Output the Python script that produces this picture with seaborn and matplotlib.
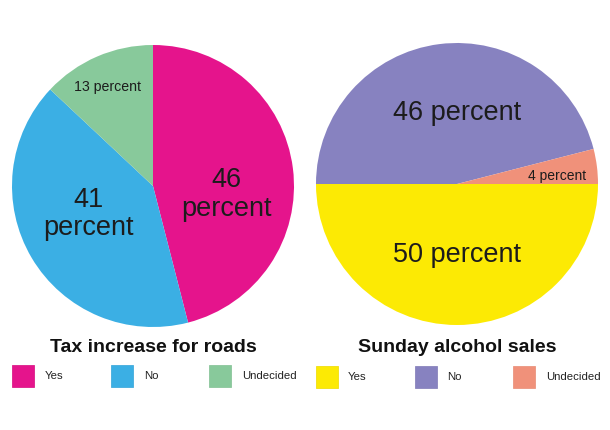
import matplotlib
matplotlib.use("Agg")
import matplotlib.pyplot as plt
from matplotlib.patches import Rectangle
import seaborn as sns

# ---- data ----
categories = ["Yes", "No", "Undecided"]
tax_values = [46, 41, 13]
alcohol_values = [50, 46, 4]
tax_title = "Tax increase for roads"
alcohol_title = "Sunday alcohol sales"
tax_labels = ["46\npercent", "41\npercent", "13 percent"]
alcohol_labels = ["50 percent", "46 percent", "4 percent"]

# ---- style ----
tax_colors = ["#E5148C", "#3BAFE4", "#88C99B"]
alcohol_colors = ["#FCEA04", "#8782C0", "#F0917A"]
tax_label_pos = [(0.52, -0.06), (-0.46, -0.20), (-0.32, 0.70)]
alcohol_label_pos = [(0.0, -0.50), (0.0, 0.50), (0.71, 0.06)]
tax_label_size = [19.5, 19.5, 10.2]
alcohol_label_size = [19.5, 19.5, 10]

sns.set_theme(style="white")
plt.rcParams["font.family"] = ["Liberation Sans", "DejaVu Sans"]

W, H = 610, 430
fig = plt.figure(figsize=(W / 100, H / 100), dpi=100)
fig.patch.set_facecolor("white")

TEXT = "#1c1c1c"


def pie_axes(cx, cy, r):
    ax = fig.add_axes([(cx - r) / W, (H - cy - r) / H, 2 * r / W, 2 * r / H])
    ax.set_xlim(-1, 1)
    ax.set_ylim(-1, 1)
    ax.set_aspect("equal")
    ax.axis("off")
    return ax


def draw_pie(ax, values, colors, labels, pos, sizes, startangle):
    ax.pie(values, colors=colors, startangle=startangle, counterclock=False,
           radius=1.0, wedgeprops=dict(linewidth=0.6, edgecolor="none"))
    for lab, (x, y), s in zip(labels, pos, sizes):
        ax.text(x, y, lab, ha="center", va="center", fontsize=s,
                color=TEXT, linespacing=1.12)
    ax.set_xlim(-1, 1)
    ax.set_ylim(-1, 1)


def draw_legend(title, title_cx, title_cy, colors, sq_x, text_x, sq_y):
    fig.text(title_cx / W, 1 - title_cy / H, title, ha="center", va="center",
             fontsize=14, fontweight="bold", color="#111111")
    for cat, col, sx, tx in zip(categories, colors, sq_x, text_x):
        fig.add_artist(Rectangle((sx / W, 1 - (sq_y + 22) / H), 22 / W, 22 / H,
                                 transform=fig.transFigure, facecolor=col,
                                 edgecolor=sns.desaturate(col, 0.9),
                                 linewidth=0.6))
        fig.text(tx / W, 1 - (sq_y + 11) / H, cat, ha="left", va="center",
                 fontsize=8.2, color="#222222")


ax1 = pie_axes(153, 186, 141)
draw_pie(ax1, tax_values, tax_colors, tax_labels, tax_label_pos,
         tax_label_size, 90)

ax2 = pie_axes(457, 184, 141)
draw_pie(ax2, alcohol_values, alcohol_colors, alcohol_labels,
         alcohol_label_pos, alcohol_label_size, 0)

draw_legend(tax_title, 153, 348, tax_colors, [12, 111, 209], [45, 144, 242], 365)
draw_legend(alcohol_title, 457, 347, alcohol_colors, [316, 415, 513],
            [348, 447, 546], 366)

fig.savefig("out.png", dpi=100, facecolor="white")
